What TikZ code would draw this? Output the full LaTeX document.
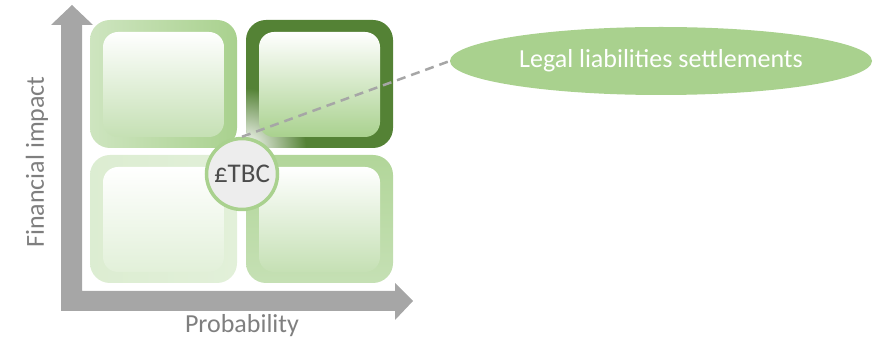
\documentclass[tikz,border=0pt]{standalone}
\usepackage{fontspec}
\setmainfont{Carlito}
\usetikzlibrary{fadings,shapes.geometric}
\definecolor{axgray}{HTML}{A6A6A6}
\definecolor{txgray}{HTML}{7F7F7F}
\definecolor{dkgreen}{HTML}{548235}
\definecolor{mdgreen}{HTML}{A9D18E}
\definecolor{ltgreen}{HTML}{C5E0B4}
\definecolor{vlgreen}{HTML}{E2F0D9}
\definecolor{circfill}{HTML}{EDEDED}
\tikzfading[name=cornerfade, inner color=transparent!0, outer color=transparent!100]
\tikzset{
  frame/.style={rounded corners=20pt},
  innerbox/.style={rounded corners=15pt, top color=white},
  axlabel/.style={text=txgray, font=\fontsize{26}{30}\selectfont},
}
\begin{document}
\begin{tikzpicture}[x=1pt,y=-1pt]
\useasboundingbox (0,0) rectangle (884,344);
% axes
\fill[axgray] (61,311) -- (61,25) -- (51,25) -- (72,5) -- (93,25) -- (82,25)
  -- (82,291) -- (395,291) -- (395,283) -- (413,301) -- (395,320) -- (395,311) -- cycle;
% top-left
\shade[frame, left color=ltgreen!85, right color=mdgreen] (90,20) rectangle (237,148);
\shade[innerbox, bottom color=ltgreen] (103,32) rectangle (224,137);
% top-right
\fill[frame, dkgreen] (246,20) rectangle (393,148);
\begin{scope}
\clip[frame] (246,20) rectangle (393,148);
\fill[white, path fading=cornerfade] (246,148) circle (60);
\end{scope}
\shade[innerbox, bottom color=mdgreen] (259,32) rectangle (380,137);
% bottom-left
\shade[frame, left color=vlgreen!80!ltgreen, right color=vlgreen] (90,155) rectangle (237,283);
\shade[innerbox, bottom color=vlgreen] (103,167) rectangle (224,272);
% bottom-right
\shade[frame, top color=mdgreen!90, bottom color=ltgreen] (246,155) rectangle (393,283);
\shade[innerbox, bottom color=ltgreen] (259,167) rectangle (380,272);
% ellipse
\node[ellipse, fill=mdgreen, minimum width=422, minimum height=68, inner sep=0,
  text=white, font=\fontsize{26}{30}\selectfont] (e) at (661,61) {Legal liabilities settlements};
% circle
\node[circle, fill=circfill, draw=mdgreen, line width=3.5pt, minimum size=71, inner sep=0,
  text=black!70, font=\fontsize{27}{30}\selectfont] (c) at (242,174) {£TBC};
% dashed connector
\draw[axgray, line width=2.5pt, dash pattern=on 9pt off 6pt] (c.north) -- (e.west);
% labels
\node[axlabel] (px) at (242,326) {Probability};
\node[axlabel, rotate=90] (py) at (37,162) {Financial impact};
\end{tikzpicture}
\end{document}
